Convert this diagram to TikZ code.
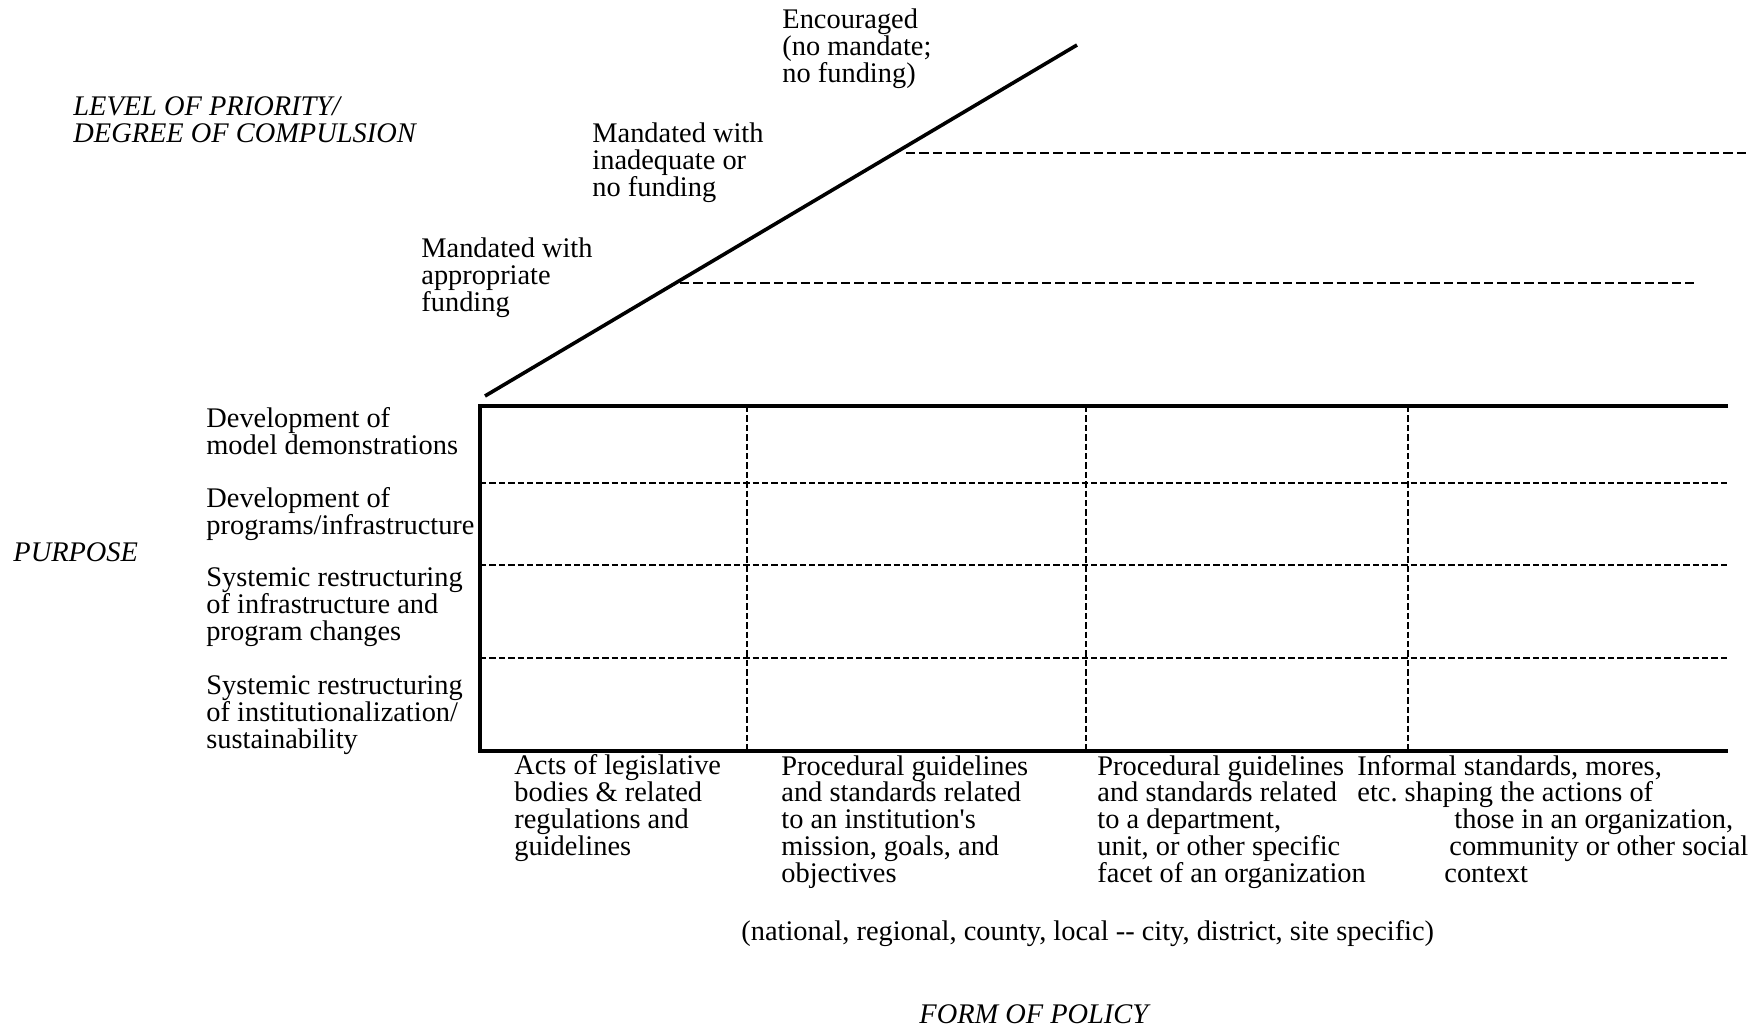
\documentclass[tikz,border=0pt]{standalone}
\usepackage{fontspec}
\setmainfont{Liberation Serif}
\usetikzlibrary{positioning, calc}

\begin{document}
\begin{tikzpicture}[x=0.5pt, y=-0.5pt,
        lbl/.style={anchor=base west, inner sep=0pt, align=left, font=\fontsize{14.2}{13.35}\selectfont},
        axislbl/.style={lbl, font=\fontsize{14.2}{13.35}\selectfont\itshape},
        frame/.style={line width=2.4pt, line join=miter},
        cell/.style={line width=1.05pt, dash pattern=on 3.2pt off 1.5pt},
        level/.style={line width=1.4pt, dash pattern=on 4.7pt off 2pt}]

        \useasboundingbox (0,0) rectangle (1761,1029);

        % --- PRIORITY AXIS ---
        \coordinate (slopeLo) at (485,396);
        \coordinate (slopeHi) at (1077,45);
        \draw[line width=1.8pt] (slopeLo) -- (slopeHi);
        \draw[level] (906,153) -- (1750,153);
        \draw[level] (680,283) -- (1698,283);

        % (base anchor = baseline of the last line)
        \node[axislbl] (priority) at (73,142) {LEVEL OF PRIORITY/\\DEGREE OF COMPULSION};
        \node[lbl] (encouraged) at (782,82) {Encouraged\\(no mandate;\\no funding)};
        \node[lbl] (inadequate) at (592,196) {Mandated with\\inadequate or\\no funding};
        \node[lbl] (appropriate) at (421,311) {Mandated with\\appropriate\\funding};

        % --- GRID ---
        \foreach \y in {483,565,658}
            \draw[cell] (480,\y) -- (1728,\y);
        \foreach \x in {747,1086,1408}
            \draw[cell] (\x,406) -- (\x,751);
        \draw[frame] (1728,406) -- (480,406) -- (480,751) -- (1728,751);

        % --- PURPOSE (rows) ---
        \node[axislbl] (purpose) at (13,561) {PURPOSE};
        \node[lbl] (rowModel) at (206,454) {Development of\\model demonstrations};
        \node[lbl] (rowProg) at (206,534) {Development of\\programs/infrastructure};
        \node[lbl] (rowInfra) at (206,640) {Systemic restructuring\\of infrastructure and\\program changes};
        \node[lbl] (rowInst) at (206,748) {Systemic restructuring\\of institutionalization/\\sustainability};

        % --- FORM OF POLICY (columns) ---
        \node[lbl] (colActs) at (514,855) {Acts of legislative\\bodies \& related\\regulations and\\guidelines};
        \node[lbl] (colInst) at (781,882) {Procedural guidelines\\and standards related\\to an institution\textquotesingle s\\mission, goals, and\\objectives};
        \node[lbl] (colDept) at (1097,882) {Procedural guidelines\\and standards related\\to a department,\\unit, or other specific\\facet of an organization};
        \node[lbl] (colInformal) at (1357,882) {Informal standards, mores,\\etc.\ shaping the actions of\\\hspace*{48.5pt}those in an organization,\\\hspace*{46pt}community or other social\\\hspace*{43.5pt}context};

        \node[lbl] (scope) at (741,940) {(national, regional, county, local -{}- city, district, site specific)};
        \node[axislbl] (form) at (919,1023) {FORM OF POLICY};

    \end{tikzpicture}
\end{document}
